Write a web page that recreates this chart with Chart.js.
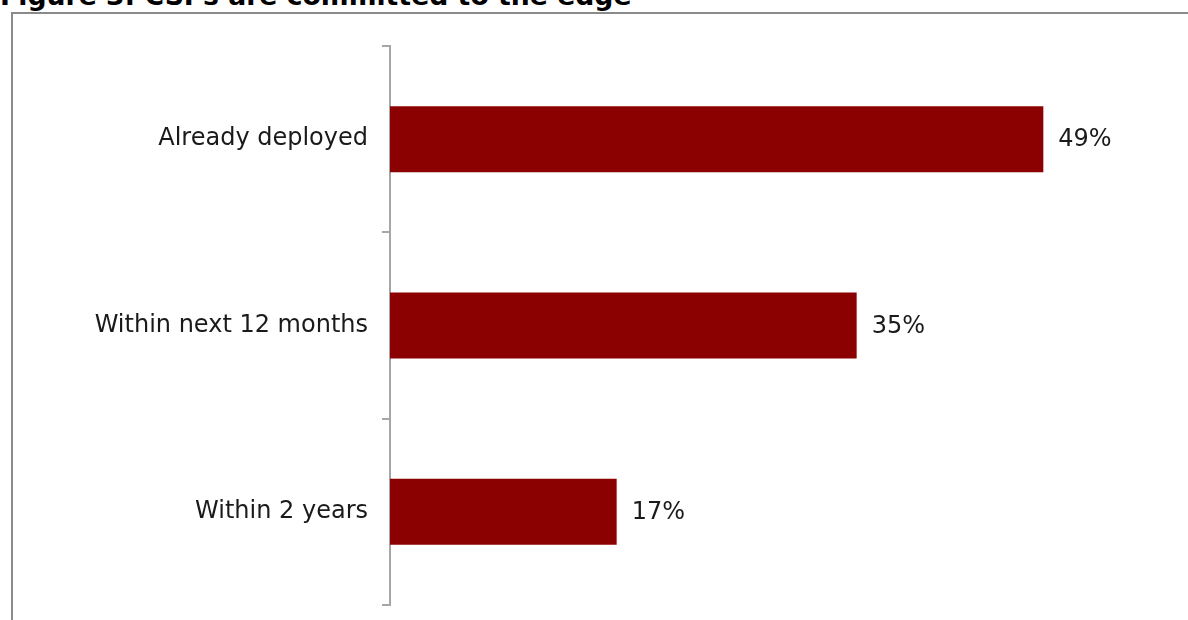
<!DOCTYPE html>
<html>
<head>
<meta charset="utf-8">
<script src="https://cdn.jsdelivr.net/npm/chart.js@4/dist/chart.umd.min.js"></script>
<style>
  html, body { margin:0; padding:0; background:#fff; overflow:hidden; width:1188px; height:620px; }
  #title { position:absolute; left:0; top:-17px; font:bold 26.7px "DejaVu Sans", Verdana, sans-serif; line-height:26px; color:#000; white-space:nowrap; }
  #frame { position:absolute; left:11px; top:12px; width:1200px; height:620px; border-top:2px solid #8a8a8a; border-left:2px solid #8a8a8a; }
  #wrap { position:absolute; left:0; top:0; width:1200px; height:620px; }
</style>
</head>
<body>
<div id="title">Figure 3: CSPs are committed to the edge</div>
<div id="frame"></div>
<div id="wrap"><canvas id="chart"></canvas></div>
<script>
// ---------- DATA ----------
const CATEGORIES = ["Already deployed", "Within next 12 months", "Within 2 years"];
const SHARES = [49, 35, 17];
const AXIS_MAX = 60;

const BAR_COLOR = "#8b0000";
const FONT = '"DejaVu Sans", Verdana, sans-serif';

// ---------- VALUE LABELS ----------
const valueLabels = {
  id: "valueLabels",
  afterDatasetsDraw(chart) {
    const ctx = chart.ctx;
    const meta = chart.getDatasetMeta(0);
    ctx.save();
    ctx.font = "24px " + FONT;
    ctx.fillStyle = "#1a1a1a";
    ctx.textAlign = "left";
    ctx.textBaseline = "middle";
    meta.data.forEach((bar, i) => {
      ctx.fillText(SHARES[i] + "%", bar.x + 15, bar.y + 1);
    });
    ctx.restore();
  }
};

// ---------- CHART ----------
Chart.defaults.font.family = FONT;
Chart.defaults.color = "#1a1a1a";

new Chart(document.getElementById("chart"), {
  type: "bar",
  data: {
    labels: CATEGORIES,
    datasets: [{
      data: SHARES,
      backgroundColor: BAR_COLOR,
      borderWidth: 0,
      barPercentage: 0.354,
      categoryPercentage: 1
    }]
  },
  options: {
    indexAxis: "y",
    responsive: true,
    maintainAspectRatio: false,
    animation: false,
    layout: { padding: { top: 46, bottom: 15, left: 0, right: 10 } },
    plugins: { legend: { display: false }, tooltip: { enabled: false } },
    scales: {
      x: { display: false, min: 0, max: AXIS_MAX },
      y: {
        afterFit(scale) {
          // fixed label column; drop the end padding reserved for tick labels
          scale.width = 390;
          scale.paddingTop = 0;
          scale.paddingBottom = 0;
        },
        border: { display: true, color: "#a6a6a6", width: 2 },
        grid: { drawOnChartArea: false, drawTicks: true, tickLength: 8, color: "#a6a6a6", lineWidth: 2, offset: true },
        ticks: { padding: 14, font: { size: 24 }, color: "#1a1a1a" }
      }
    }
  },
  plugins: [valueLabels]
});
</script>
</body>
</html>
